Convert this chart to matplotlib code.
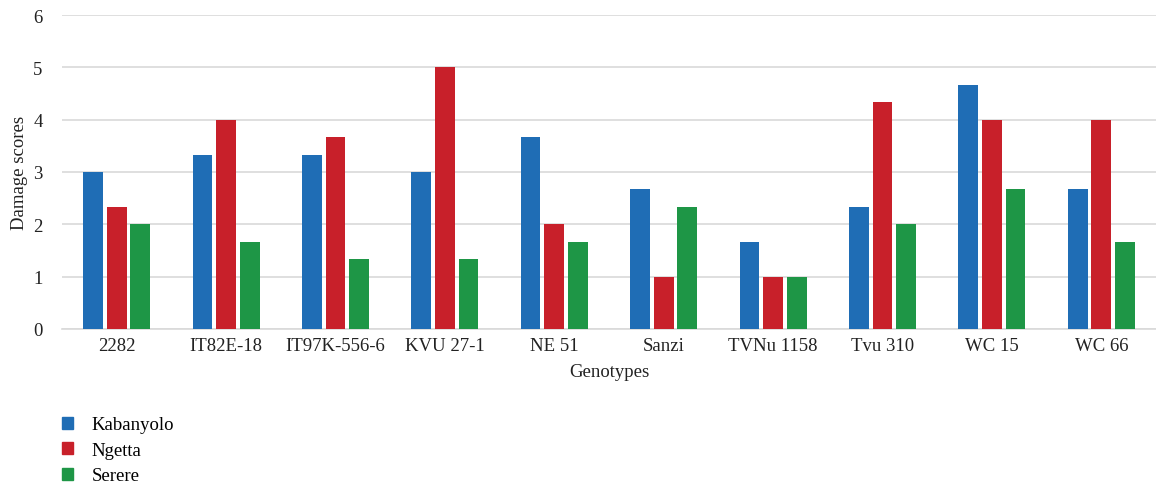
import matplotlib.pyplot as plt
import numpy as np
from matplotlib.patches import Patch

plt.rcParams['font.family'] = ['Liberation Serif', 'DejaVu Serif']

genotypes = ["2282", "IT82E-18", "IT97K-556-6", "KVU 27-1", "NE 51",
             "Sanzi", "TVNu 1158", "Tvu 310", "WC 15", "WC 66"]
kabanyolo = [3.0, 3.33, 3.33, 3.0, 3.67, 2.67, 1.67, 2.33, 4.67, 2.67]
ngetta = [2.33, 4.0, 3.67, 5.0, 2.0, 1.0, 1.0, 4.33, 4.0, 4.0]
serere = [2.0, 1.67, 1.33, 1.33, 1.67, 2.33, 1.0, 2.0, 2.67, 1.67]

sites = ["Kabanyolo", "Ngetta", "Serere"]
colors = ["#1f6db5", "#c8202a", "#1e9646"]

fig = plt.figure(figsize=(11.56, 4.85), dpi=100)
ax = fig.add_axes([0.0536, 0.3196, 0.9464, 0.6474])

x = np.arange(len(genotypes))
w = 0.18
step = 0.216
for i, (vals, c) in enumerate(zip([kabanyolo, ngetta, serere], colors)):
    ax.bar(x + (i - 1) * step, vals, width=w, color=c, zorder=3)

ax.set_xlim(-0.5, len(genotypes) - 0.5)
ax.set_ylim(0, 6)
ax.set_yticks(range(7))
ax.yaxis.grid(True, color="#d9d9d9", linewidth=1.2, zorder=0)
for s in ["top", "right", "left"]:
    ax.spines[s].set_visible(False)
ax.spines["bottom"].set_color("#d9d9d9")
ax.spines["bottom"].set_linewidth(1.2)
ax.tick_params(axis="both", length=0, labelsize=13.5, colors="#222222", pad=6)
ax.tick_params(axis="y", pad=14)
ax.set_xticks(x)
ax.set_xticklabels(genotypes)
ax.set_xlabel("Genotypes", fontsize=13.5, color="#222222", labelpad=6)
ax.set_ylabel("Damage scores", fontsize=13.5, color="#222222", labelpad=4)

handles = [Patch(color=c, label=s) for s, c in zip(sites, colors)]
fig.legend(handles=handles, loc="upper left", bbox_to_anchor=(0.047, 0.155),
           frameon=False, fontsize=13.5, handlelength=0.6, handleheight=0.6,
           handletextpad=1.0, labelspacing=0.45, borderaxespad=0)

fig.savefig("out.png", dpi=100)
